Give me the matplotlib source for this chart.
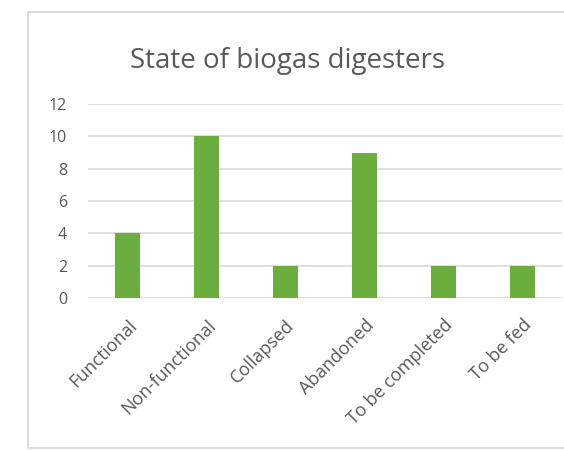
import matplotlib.pyplot as plt
from matplotlib.lines import Line2D

categories = ["Functional", "Non-functional", "Collapsed", "Abandoned",
              "To be completed", "To be fed"]
counts = [4, 10, 2, 9, 2, 2]

plt.rcParams['font.family'] = ['Open Sans', 'DejaVu Sans']

fig = plt.figure(figsize=(5.64, 4.5), dpi=100)

# chart area border: top, left, bottom (right side cut off in original)
x0, x1 = 28/564, 1.0
y0, y1 = 1 - 448/450, 1 - 12/450
fig.lines.append(Line2D([x1, x0, x0, x1], [y1, y1, y0, y0], transform=fig.transFigure,
                        color='#d9d9d9', linewidth=1.3))

ax = fig.add_axes([88/564, 1 - 298/450, 474/564, 194/450])
x = range(len(categories))
ax.bar(x, counts, width=0.31, color='#6aae3e', zorder=3)

ax.set_xlim(-0.5, len(categories) - 0.5)
ax.set_ylim(0, 12)
ax.set_yticks(range(0, 13, 2))
ax.grid(axis='y', color='#d9d9d9', linewidth=1.2, zorder=0)
for s in ax.spines.values():
    s.set_visible(False)
ax.tick_params(length=0, colors='#595959')
ax.tick_params(axis='y', pad=15, labelsize=11.5)
ax.tick_params(axis='x', pad=13, labelsize=13)
ax.set_xticks(list(x))
ax.set_xticklabels(categories, rotation=45, ha='right', rotation_mode='anchor')

fig.text(287/564, 1 - 61/450, "State of biogas digesters", ha='center', va='center',
         fontsize=20, color='#595959')

fig.savefig("out.png")
